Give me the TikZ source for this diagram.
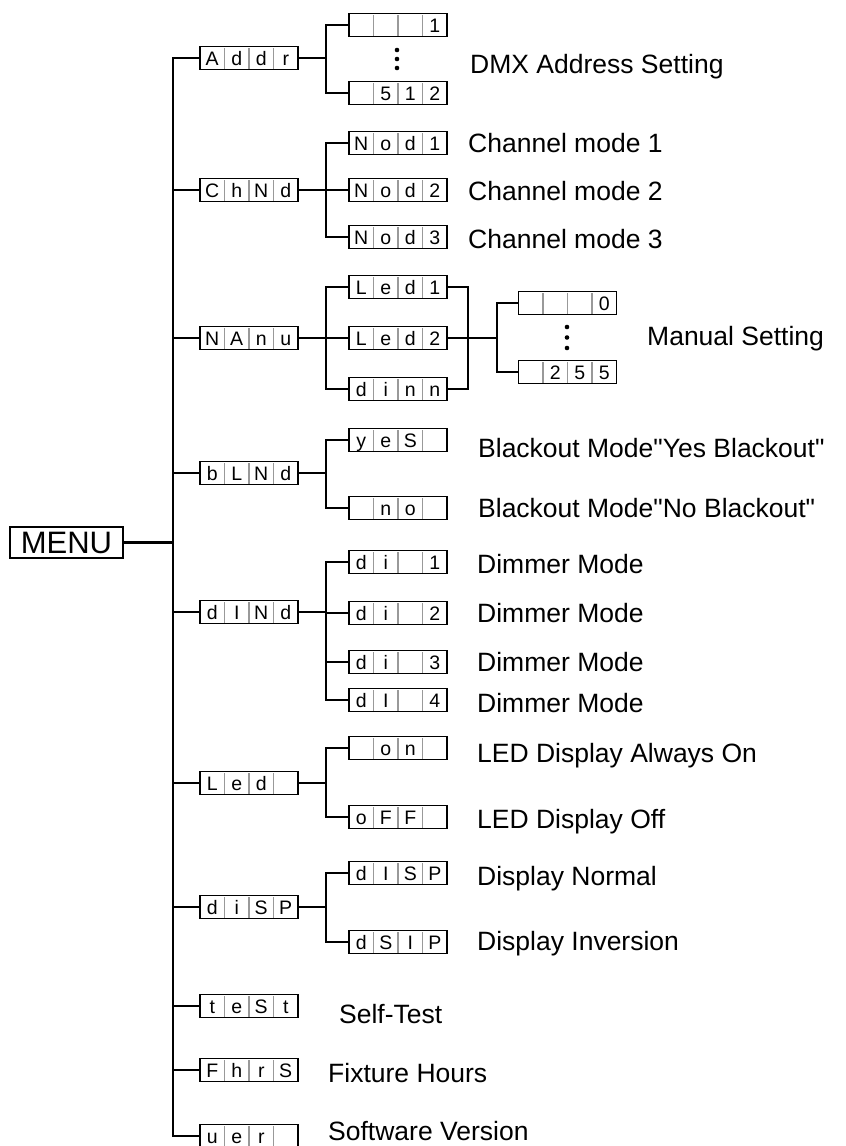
\documentclass[tikz,border=0pt]{standalone}
\usepackage{fontspec}
\setmainfont{Liberation Sans}[Ligatures=TeXOff]
\usetikzlibrary{calc}
\tikzset{
  conn/.style={line width=2.8pt, line join=miter},
  segframe/.style={draw=black, line width=1.8pt, fill=white, minimum width=98pt, minimum height=23pt, inner sep=0pt, outer sep=0pt},
  celldiv/.style={draw=black!40, line width=1.6pt, shorten <=1pt, shorten >=1pt},
  seg/.style={font=\fontsize{19.5}{20}\selectfont, inner sep=0pt, text height=14pt, text depth=0pt, anchor=center},
  lbl/.style={font=\fontsize{26.5}{30}\selectfont, inner sep=0pt, anchor=base west},
  menubox/.style={draw=black, line width=2pt, minimum width=113pt, minimum height=31pt, inner sep=0pt, outer sep=0pt, font=\fontsize{31}{34}\selectfont},
  dot/.style={fill=black, draw=none}
}
\newcommand\segbox[6]{%
  \node[segframe] (#1) at (#2) {};
  \foreach \k in {1,2,3}{\draw[celldiv] ([xshift=\k*24.5pt]#1.south west) -- ([xshift=\k*24.5pt]#1.north west);}
  \node[seg] (#1-a) at ([xshift=12.25pt]#1.west) {#3};
  \node[seg] (#1-b) at ([xshift=36.75pt]#1.west) {#4};
  \node[seg] (#1-c) at ([xshift=61.25pt]#1.west) {#5};
  \node[seg] (#1-d) at ([xshift=85.75pt]#1.west) {#6};
}
\newcommand\fanout[2]{%
  \coordinate (b#1) at ([xshift=28pt]#1.east);
  \draw[conn] (#1.east) -- (b#1);
  \foreach \c in {#2}{\draw[conn] (b#1) |- (\c.west);}
}
\begin{document}
\begin{tikzpicture}[x=1pt, y=-1pt]
\useasboundingbox (0,0) rectangle (846,1146);
% root
\node[menubox] (MENU) at (66.5,542.5) {MENU};
% level 1
\segbox{Addr}{249,58}{A}{d}{d}{r}
\segbox{ChNd}{249,190}{C}{h}{N}{d}
\segbox{NAnu}{249,338}{N}{A}{n}{u}
\segbox{bLNd}{249,473}{b}{L}{N}{d}
\segbox{dINd}{249,612}{d}{I}{N}{d}
\segbox{LEd}{249,783}{L}{e}{d}{}
\segbox{dISP}{249,907}{d}{i}{S}{P}
\segbox{tESt}{249,1006}{t}{e}{S}{t}
\segbox{FhrS}{249,1070}{F}{h}{r}{S}
\segbox{vEr}{249,1136}{u}{e}{r}{}
% level 2
\segbox{v1}{398,25}{}{}{}{1}
\segbox{v512}{398,93}{}{5}{1}{2}
\segbox{Nod1}{398,143}{N}{o}{d}{1}
\segbox{Nod2}{398,190}{N}{o}{d}{2}
\segbox{Nod3}{398,237}{N}{o}{d}{3}
\segbox{Led1}{398,287}{L}{e}{d}{1}
\segbox{Led2}{398,338}{L}{e}{d}{2}
\segbox{dInn}{398,389}{d}{i}{n}{n}
\segbox{yes}{398,440}{y}{e}{S}{}
\segbox{no}{398,508}{}{n}{o}{}
\segbox{di1}{398,562}{d}{i}{}{1}
\segbox{di2}{398,613}{d}{i}{}{2}
\segbox{di3}{398,662}{d}{i}{}{3}
\segbox{di4}{398,700}{d}{I}{}{4}
\segbox{on}{398,748}{}{o}{n}{}
\segbox{oFF}{398,817}{o}{F}{F}{}
\segbox{dISPb}{398,873}{d}{I}{S}{P}
\segbox{dSIP}{398,942}{d}{S}{I}{P}
% level 3
\segbox{v0}{567.5,303}{}{}{}{0}
\segbox{v255}{567.5,372}{}{2}{5}{5}
% trunk
\coordinate (trunk) at (173,542.5);
\draw[conn] (MENU.east) -- (trunk);
\foreach \n in {Addr,ChNd,NAnu,bLNd,dINd,LEd,dISP,tESt,FhrS,vEr}{\draw[conn] (trunk) |- (\n.west);}
% fan-outs
\fanout{Addr}{v1,v512}
\fanout{ChNd}{Nod1,Nod2,Nod3}
\fanout{NAnu}{Led1,Led2,dInn}
\fanout{bLNd}{yes,no}
\fanout{dINd}{di1,di2,di3,di4}
\fanout{LEd}{on,oFF}
\fanout{dISP}{dISPb,dSIP}
% manual join
\coordinate (jr) at (468,338);
\coordinate (jr2) at (497,338);
\foreach \c in {Led1,Led2,dInn}{\draw[conn] (\c.east) -| (jr);}
\draw[conn] (jr) -- (jr2);
\foreach \c in {v0,v255}{\draw[conn] (jr2) |- (\c.west);}
% ellipsis dots
\foreach \yy in {50,59,68}{\fill[dot] (397,\yy) circle (2.3pt);}
\foreach \yy in {327,337.5,348}{\fill[dot] (567,\yy) circle (2.3pt);}
% labels
\node[lbl] (t1) at (470,73) {DMX Address Setting};
\node[lbl] (t2) at (468,152) {Channel mode 1};
\node[lbl] (t3) at (468,200) {Channel mode 2};
\node[lbl] (t4) at (468,248) {Channel mode 3};
\node[lbl] (t5) at (647,345) {Manual Setting};
\node[lbl] (t6) at (478,457) {Blackout Mode"Yes Blackout"};
\node[lbl] (t7) at (478,517) {Blackout Mode"No Blackout"};
\node[lbl] (t8) at (477,573) {Dimmer Mode};
\node[lbl] (t9) at (477,622) {Dimmer Mode};
\node[lbl] (t10) at (477,671) {Dimmer Mode};
\node[lbl] (t11) at (477,712) {Dimmer Mode};
\node[lbl] (t12) at (477,762) {LED Display Always On};
\node[lbl] (t13) at (477,828) {LED Display Off};
\node[lbl] (t14) at (477,885) {Display Normal};
\node[lbl] (t15) at (477,950) {Display Inversion};
\node[lbl] (t16) at (339,1023) {Self-Test};
\node[lbl] (t17) at (328,1082) {Fixture Hours};
\node[lbl] (t18) at (328,1140) {Software Version};
\end{tikzpicture}
\end{document}
